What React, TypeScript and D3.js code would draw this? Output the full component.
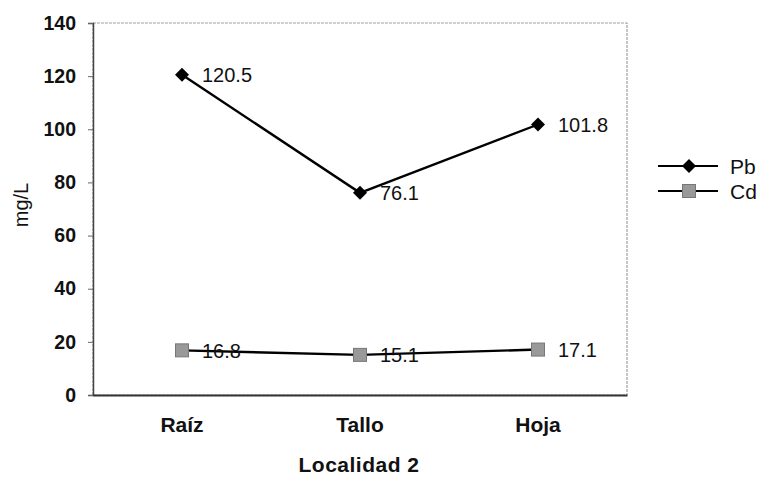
import React, { useEffect, useRef } from 'react'
import * as d3 from 'd3'

const categories = ['Raíz', 'Tallo', 'Hoja']
const pbValues = [120.5, 76.1, 101.8]
const cdValues = [16.8, 15.1, 17.1]
const yTicks = [0, 20, 40, 60, 80, 100, 120, 140]

const FONT = 'Arial, "Liberation Sans", sans-serif'

export default function App() {
  const svgRef = useRef<SVGSVGElement>(null)

  useEffect(() => {
    if (!svgRef.current) return
    const root = d3.select(svgRef.current)
    root.selectAll('*').remove()

    const margin = { top: 23, left: 93 }
    const width = 534
    const height = 372

    const svg = root.append('g').attr('transform', `translate(${margin.left},${margin.top})`)

    const x = d3.scaleBand<string>().domain(categories).range([0, width])
    const y = d3.scaleLinear().domain([0, 140]).range([height, 0])
    const cx = (c: string) => (x(c) || 0) + x.bandwidth() / 2

    // plot frame
    svg.append('rect')
      .attr('x', 0).attr('y', 0).attr('width', width).attr('height', height)
      .attr('fill', 'none').attr('stroke', '#a0a0a0').attr('stroke-width', 1.2)
      .attr('stroke-dasharray', '3 1')

    // y axis
    const yAxis = svg.append('g')
      .call(d3.axisLeft(y).tickValues(yTicks).tickSize(5).tickPadding(12).tickFormat(d3.format('d')))
    yAxis.select('.domain').attr('stroke', '#444').attr('stroke-width', 1.5)
    yAxis.selectAll('.tick line').attr('stroke', '#666')
    yAxis.selectAll('text')
      .style('font-family', FONT).style('font-size', '19.5px').style('font-weight', 'bold').attr('fill', '#111')

    // x axis
    const xAxis = svg.append('g')
      .attr('transform', `translate(0,${height})`)
      .call(d3.axisBottom(x).tickSize(0).tickPadding(22))
    xAxis.select('.domain').attr('stroke', '#333').attr('stroke-width', 1.8)
    xAxis.selectAll('text')
      .style('font-family', FONT).style('font-size', '21px').style('font-weight', 'bold').attr('fill', '#111')

    // axis titles
    svg.append('text')
      .attr('transform', `translate(${-65},${182}) rotate(-90)`)
      .attr('text-anchor', 'middle')
      .style('font-family', FONT).style('font-size', '20px').attr('fill', '#111')
      .text('mg/L')

    svg.append('text')
      .attr('x', width / 2 - 1).attr('y', height + 77)
      .attr('text-anchor', 'middle')
      .style('font-family', FONT).style('font-size', '21px').style('font-weight', 'bold')
      .style('letter-spacing', '0.5px').attr('fill', '#111')
      .text('Localidad 2')

    const line = d3.line<number>()
      .x((_, i) => cx(categories[i]))
      .y(d => y(d))

    const series = [
      { name: 'Pb', values: pbValues, marker: 'diamond' },
      { name: 'Cd', values: cdValues, marker: 'square' },
    ]

    const drawMarker = (g: any, type: string, px: number, py: number) => {
      if (type === 'diamond') {
        g.append('path')
          .attr('d', d3.symbol(d3.symbolDiamond2, 125)())
          .attr('transform', `translate(${px},${py})`)
          .attr('fill', '#000')
      } else {
        g.append('rect')
          .attr('x', px - 6.5).attr('y', py - 6.5).attr('width', 13).attr('height', 13)
          .attr('fill', '#999').attr('stroke', '#777').attr('stroke-width', 1)
      }
    }

    series.forEach(s => {
      svg.append('path')
        .datum(s.values)
        .attr('fill', 'none')
        .attr('stroke', '#000')
        .attr('stroke-width', 2.4)
        .attr('d', line)

      s.values.forEach((v, i) => {
        const px = cx(categories[i])
        const py = y(v)
        drawMarker(svg, s.marker, px, py)
        svg.append('text')
          .attr('x', px + 20).attr('y', py)
          .attr('dy', '0.36em')
          .style('font-family', FONT).style('font-size', '20px').attr('fill', '#111')
          .text(d3.format('.1f')(v))
      })
    })

    // legend
    const legend = root.append('g').attr('transform', 'translate(658,166)')
    series.forEach((s, i) => {
      const ly = i * 25
      legend.append('line')
        .attr('x1', 0).attr('x2', 60).attr('y1', ly).attr('y2', ly)
        .attr('stroke', '#000').attr('stroke-width', 2.2)
      drawMarker(legend, s.marker, 31, ly)
      legend.append('text')
        .attr('x', 72).attr('y', ly).attr('dy', '0.36em')
        .style('font-family', FONT).style('font-size', '21px').attr('fill', '#111')
        .text(s.name)
    })
  }, [])

  return (
    <svg ref={svgRef} width={762} height={477}
      style={{ position: 'absolute', left: 0, top: 0, background: '#fff' }} />
  )
}
